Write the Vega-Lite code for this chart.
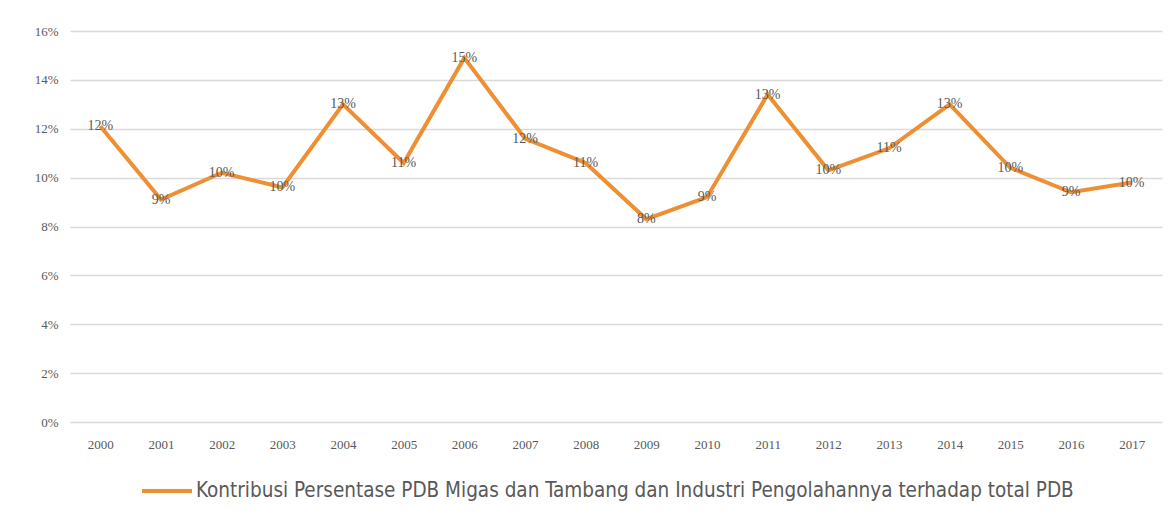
{
  "$schema": "https://vega.github.io/schema/vega-lite/v6.json",
  "autosize": "none",
  "width": 1092,
  "height": 391,
  "padding": {"left": 70, "top": 31, "right": 13, "bottom": 104},
  "background": "white",
  "config": {
    "view": {"stroke": null},
    "font": "Liberation Serif"
  },
  "data": {
    "values": [
      {"tahun": "2000", "nilai": 0.121, "seri": "Kontribusi Persentase PDB Migas dan Tambang dan Industri Pengolahannya terhadap total PDB"},
      {"tahun": "2001", "nilai": 0.091, "seri": "Kontribusi Persentase PDB Migas dan Tambang dan Industri Pengolahannya terhadap total PDB"},
      {"tahun": "2002", "nilai": 0.102, "seri": "Kontribusi Persentase PDB Migas dan Tambang dan Industri Pengolahannya terhadap total PDB"},
      {"tahun": "2003", "nilai": 0.096, "seri": "Kontribusi Persentase PDB Migas dan Tambang dan Industri Pengolahannya terhadap total PDB"},
      {"tahun": "2004", "nilai": 0.130, "seri": "Kontribusi Persentase PDB Migas dan Tambang dan Industri Pengolahannya terhadap total PDB"},
      {"tahun": "2005", "nilai": 0.106, "seri": "Kontribusi Persentase PDB Migas dan Tambang dan Industri Pengolahannya terhadap total PDB"},
      {"tahun": "2006", "nilai": 0.149, "seri": "Kontribusi Persentase PDB Migas dan Tambang dan Industri Pengolahannya terhadap total PDB"},
      {"tahun": "2007", "nilai": 0.116, "seri": "Kontribusi Persentase PDB Migas dan Tambang dan Industri Pengolahannya terhadap total PDB"},
      {"tahun": "2008", "nilai": 0.106, "seri": "Kontribusi Persentase PDB Migas dan Tambang dan Industri Pengolahannya terhadap total PDB"},
      {"tahun": "2009", "nilai": 0.083, "seri": "Kontribusi Persentase PDB Migas dan Tambang dan Industri Pengolahannya terhadap total PDB"},
      {"tahun": "2010", "nilai": 0.092, "seri": "Kontribusi Persentase PDB Migas dan Tambang dan Industri Pengolahannya terhadap total PDB"},
      {"tahun": "2011", "nilai": 0.134, "seri": "Kontribusi Persentase PDB Migas dan Tambang dan Industri Pengolahannya terhadap total PDB"},
      {"tahun": "2012", "nilai": 0.103, "seri": "Kontribusi Persentase PDB Migas dan Tambang dan Industri Pengolahannya terhadap total PDB"},
      {"tahun": "2013", "nilai": 0.112, "seri": "Kontribusi Persentase PDB Migas dan Tambang dan Industri Pengolahannya terhadap total PDB"},
      {"tahun": "2014", "nilai": 0.130, "seri": "Kontribusi Persentase PDB Migas dan Tambang dan Industri Pengolahannya terhadap total PDB"},
      {"tahun": "2015", "nilai": 0.104, "seri": "Kontribusi Persentase PDB Migas dan Tambang dan Industri Pengolahannya terhadap total PDB"},
      {"tahun": "2016", "nilai": 0.094, "seri": "Kontribusi Persentase PDB Migas dan Tambang dan Industri Pengolahannya terhadap total PDB"},
      {"tahun": "2017", "nilai": 0.098, "seri": "Kontribusi Persentase PDB Migas dan Tambang dan Industri Pengolahannya terhadap total PDB"}
    ]
  },
  "encoding": {
    "x": {
      "field": "tahun", "type": "ordinal",
      "scale": {"type": "point", "padding": 0.5},
      "axis": {
        "title": null, "labelAngle": 0, "ticks": false, "domain": false,
        "labelColor": "#595959", "labelFontSize": 13, "labelPadding": 16, "grid": false
      }
    },
    "y": {
      "field": "nilai", "type": "quantitative",
      "scale": {"domain": [0, 0.16]},
      "axis": {
        "title": null, "format": ".0%", "values": [0, 0.02, 0.04, 0.06, 0.08, 0.1, 0.12, 0.14, 0.16],
        "ticks": false, "domain": false, "labelColor": "#595959", "labelFontSize": 13,
        "labelPadding": 12, "gridColor": "#d9d9d9", "gridWidth": 1.5
      }
    }
  },
  "layer": [
    {
      "mark": {"type": "line", "strokeWidth": 4, "strokeJoin": "miter"},
      "encoding": {
        "color": {
          "field": "seri", "type": "nominal",
          "scale": {"range": ["#ED8F32"]},
          "legend": {
            "title": null, "orient": "none", "legendX": 70, "legendY": 433,
            "symbolType": "stroke", "symbolSize": 2500, "symbolStrokeWidth": 4,
            "labelFont": "DejaVu Sans Condensed",
            "labelFontSize": 20.5, "labelColor": "#595959", "labelLimit": 1100, "symbolOffset": 0, "labelOffset": 2
          }
        }
      }
    },
    {
      "mark": {"type": "text", "fontSize": 14, "color": "#595959", "baseline": "middle", "align": "center"},
      "encoding": {
        "text": {"field": "nilai", "type": "quantitative", "format": ".0%"}
      }
    }
  ]
}
